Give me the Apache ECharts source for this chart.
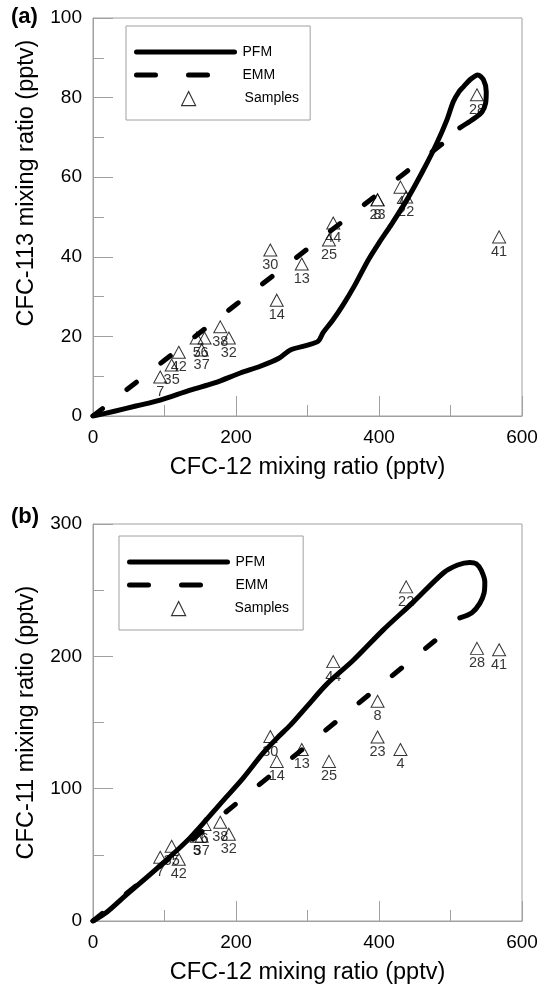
<!DOCTYPE html>
<html><head><meta charset="utf-8">
<script src="https://cdn.jsdelivr.net/npm/echarts@6/dist/echarts.min.js"></script>
<style>html,body{margin:0;padding:0;background:#fff}#c{width:543px;height:986px}</style>
</head><body><div id="c"></div><script>
// Sample identifiers and mixing ratios (pptv)
const sampleIds = ['7','35','42','5','37','6','38','32','30','14','13','25','44','8','23','4','22','28','41'];
const cfc12Samples = [94,110,120,145,152,156,178,190,248,257,292,330,336,398,398,430,438,537,568];
const cfc113Samples = [9.8,12.8,16,19.6,16.6,19.6,22.4,19.6,41.7,29.1,38.2,44.2,48.5,54.3,54.3,57.5,55,80.7,45];
const cfc11Samples = [48.2,56.5,46.7,64,64,73,74.6,65.6,139.4,120.6,129.6,120.6,196,166,139,129.6,252.5,206,205];

// Model curves, panel (a): CFC-12 vs CFC-113
const pfmA_x = [0,30,60,94,136,170,206,234,260,276,300,315,322,335,350,365,385,400,415,439,462,481,495,504,512,518,528,538,546,550,549,544,535,527,513];
const pfmA_y = [0,1.2,2.5,4,6.5,8.3,10.8,12.5,14.5,16.6,17.8,18.8,21,24,28,32.5,39.2,43.5,47.5,54.3,61.8,68.6,74.4,79,81.5,82.7,84.6,85.7,84.5,81.5,78.5,76.4,75,74,72.4];
const emmA_x = [0,100,200,300,400,520];
const emmA_y = [0,14,28,42,56,72.8];

// Model curves, panel (b): CFC-12 vs CFC-11
const pfmB_x = [0,20,45,90,136,182,210,238,257,276,299,327,364,406,448,490,510,527,536,543,548,547,541,530,513];
const pfmB_y = [0,7,19,40,63,91,108,127,138,148,162,179,197,220,241,263,269,271,270,265,256,248,240,233,229];
const emmB_x = [0,100,200,300,400,490];
const emmB_y = [0,44.3,88.6,132.9,177.2,217];

// Axis ticks
const xTicks = {min:0, max:600, interval:200};
const yTicksA = {min:0, max:100, interval:20};
const yTicksB = {min:0, max:300, interval:100};

const FONT = 'Liberation Sans, Arial, sans-serif';
const GRAY = '#a0a0a0';
const CLEAR = 'rgba(0,0,0,0)';
const zip = (xs, ys) => xs.map((x, i) => [x, ys[i]]);
const samplesData = (ys) => cfc12Samples.map((x, i) => [x, ys[i], sampleIds[i]]);

function xAxis(gridIndex){
  return {
    gridIndex, type:'value', min:xTicks.min, max:xTicks.max, interval:xTicks.interval,
    name:'CFC-12 mixing ratio (pptv)', nameLocation:'middle', nameGap:40,
    nameTextStyle:{fontFamily:FONT, fontSize:23.5, color:'#000'},
    axisLine:{show:true, lineStyle:{color:GRAY, width:1}},
    axisTick:{show:true, inside:true, length:20, lineStyle:{color:GRAY}},
    minorTick:{show:true, splitNumber:2, length:11, lineStyle:{color:GRAY}},
    splitLine:{show:false},
    axisLabel:{fontFamily:FONT, fontSize:19, color:'#000', margin:12}
  };
}
function yAxis(gridIndex, t, name, pad){
  return {
    gridIndex, type:'value', min:t.min, max:t.max, interval:t.interval,
    name, nameLocation:'middle', nameGap:54,
    nameTextStyle:{fontFamily:FONT, fontSize:23.5, color:'#000', padding:pad},
    axisLine:{show:true, lineStyle:{color:GRAY, width:1}},
    axisTick:{show:true, inside:true, length:20, lineStyle:{color:GRAY}},
    minorTick:{show:true, splitNumber:2, length:11, lineStyle:{color:GRAY}},
    splitLine:{show:false},
    axisLabel:{fontFamily:FONT, fontSize:19, color:'#000', margin:11}
  };
}
function lines(idx, pfm, emm){
  return [
    {name:'PFM', type:'line', xAxisIndex:idx, yAxisIndex:idx, data:pfm, symbol:'none', smooth:0.3, z:3,
     itemStyle:{color:'#000'},
     lineStyle:{color:'#000', width:5, cap:'round', join:'round'}},
    {name:'EMM', type:'line', xAxisIndex:idx, yAxisIndex:idx, data:emm, symbol:'none', z:3,
     itemStyle:{color:'#000'},
     lineStyle:{color:'#000', width:5, type:[12,31], cap:'round'}}
  ];
}
function scatter(idx, data){
  return {name:'Samples', type:'scatter', xAxisIndex:idx, yAxisIndex:idx, data, z:2,
    symbol:'triangle', symbolSize:[13,12],
    itemStyle:{color:CLEAR, borderColor:'#000', borderWidth:1},
    label:{show:true, position:'bottom', distance:1, formatter:p => p.value[2],
           fontFamily:FONT, fontSize:14.5, color:'#000'}};
}
function legendLines(left, top){
  return {left, top, orient:'vertical', itemWidth:98, itemHeight:14, itemGap:9,
    padding:[19,35,38,8], borderColor:GRAY, borderWidth:1, backgroundColor:'#fff',
    textStyle:{fontFamily:FONT, fontSize:14, color:'#000', padding:[0,0,0,3], width:52},
    lineStyle:{width:5, color:'#000'},
    itemStyle:{color:CLEAR, borderWidth:0, opacity:0},
    data:[
      {name:'PFM', lineStyle:{width:5, type:'solid', cap:'round', color:'#000'}, itemStyle:{opacity:0}},
      {name:'EMM', lineStyle:{width:5, type:[19,33], cap:'round', color:'#000'}, itemStyle:{opacity:0}}
    ],
    selectedMode:false};
}
function legendSamples(left, top){
  return {left, top, orient:'vertical', itemWidth:14, itemHeight:14, padding:0,
    textStyle:{fontFamily:FONT, fontSize:14, color:'#000', padding:[0,0,0,44]},
    data:[{name:'Samples', icon:'triangle', itemStyle:{color:CLEAR, borderColor:'#000', borderWidth:1.2}}],
    selectedMode:false};
}

const chart = echarts.init(document.getElementById('c'), null, {renderer:'canvas'});
chart.setOption({
  animation:false,
  backgroundColor:'#fff',
  grid:[
    {left:93, top:18, width:429, height:398, show:true, borderColor:GRAY, borderWidth:1, backgroundColor:CLEAR},
    {left:93, top:524, width:429, height:398, show:true, borderColor:GRAY, borderWidth:1, backgroundColor:CLEAR}
  ],
  xAxis:[xAxis(0), xAxis(1)],
  yAxis:[yAxis(0, yTicksA, 'CFC-113 mixing ratio (pptv)', [0,0,0,68]), yAxis(1, yTicksB, 'CFC-11 mixing ratio (pptv)', 0)],
  legend:[legendLines(126,26), legendSamples(181,91), legendLines(119,536), legendSamples(171,601)],
  series:[
    scatter(0, samplesData(cfc113Samples)),
    ...lines(0, zip(pfmA_x, pfmA_y), zip(emmA_x, emmA_y)),
    scatter(1, samplesData(cfc11Samples)),
    ...lines(1, zip(pfmB_x, pfmB_y), zip(emmB_x, emmB_y))
  ],
  graphic:[
    {type:'text', left:11, top:6, style:{text:'(a)', fontFamily:FONT, fontSize:22, fontWeight:'bold', fill:'#000'}},
    {type:'text', left:11, top:506, style:{text:'(b)', fontFamily:FONT, fontSize:22, fontWeight:'bold', fill:'#000'}}
  ]
});
</script></body></html>
